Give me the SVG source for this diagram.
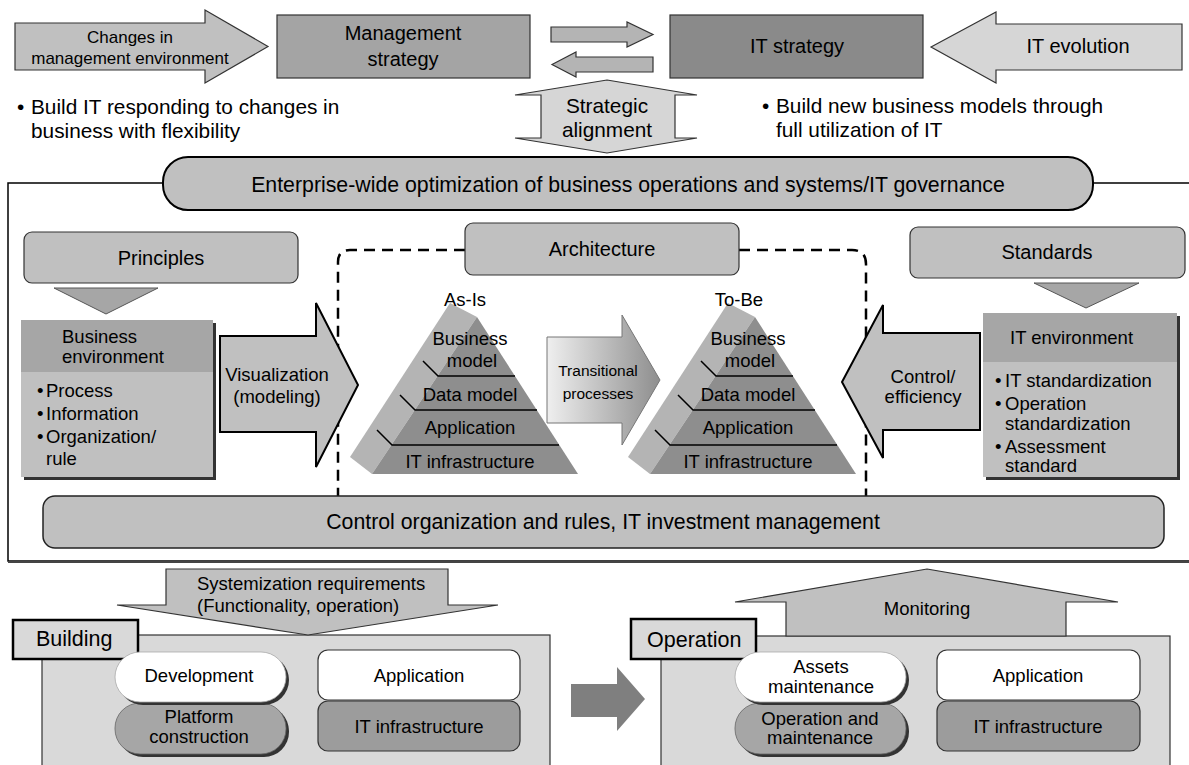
<svg xmlns="http://www.w3.org/2000/svg" width="1189" height="765" viewBox="0 0 1189 765">
  <defs>
    <linearGradient id="gradTrans" x1="547" y1="0" x2="660" y2="0" gradientUnits="userSpaceOnUse">
      <stop offset="0" stop-color="#efefef"/>
      <stop offset="1" stop-color="#8e8e8e"/>
    </linearGradient>
    <!-- stepped pyramid: light side face, darker front face, layer rules -->
    <g id="pyramid">
      <polygon points="450,303 477,317 372,474 350,457" fill="#b4b4b4"/>
      <polygon points="477,317 578,474 372,474" fill="#8e8e8e"/>
      <g stroke="#000" stroke-width="1.5" fill="none">
        <polyline points="423,361 438,376 515,376"/>
        <polyline points="400,395 415,410 537,410"/>
        <polyline points="377,430 392,445 559,445"/>
      </g>
    </g>
  </defs>
  <style>
    text { font-family: "Liberation Sans", Arial, Helvetica, sans-serif; fill: #000; }
    .c { text-anchor: middle; }
    .f15 { font-size: 15.5px; }
    .f17 { font-size: 17px; }
    .f18 { font-size: 18.5px; }
    .f20 { font-size: 20px; }
    .f21 { font-size: 20.8px; }
    .big { font-size: 21.3px; }
    .lbl { font-size: 21.5px; }
    .box { stroke: #333; stroke-width: 1.2; }
    .arrow { stroke: #333; stroke-width: 1.2; }
    .bold { stroke: #000; stroke-width: 2; }
    .dash { fill: none; stroke: #000; stroke-width: 2.5; stroke-dasharray: 11 7; }
    .shadow { fill: #333; }
  </style>

  <rect x="0" y="0" width="1189" height="765" fill="#fff"/>

  <!-- outer governance frame -->
  <g id="frame">
    <rect x="8" y="183" width="1200" height="378" fill="none" stroke="#000" stroke-width="1.5"/>
    <line x1="8" y1="562" x2="1189" y2="562" stroke="#444" stroke-width="2"/>
  </g>

  <!-- top row -->
  <g id="changes">
    <polygon class="arrow" points="15,23 205,23 205,10 268,46.5 205,83 205,70 15,70" fill="#c0c0c0"/>
    <text class="c f17" x="130" y="43">Changes in</text>
    <text class="c f17" x="130" y="64">management environment</text>
  </g>
  <g id="mgmt-strategy">
    <rect class="box" x="277" y="15" width="253" height="63" fill="#a4a4a4"/>
    <text class="c f20" x="403" y="40">Management</text>
    <text class="c f20" x="403" y="66">strategy</text>
  </g>
  <g id="it-strategy">
    <rect class="box" x="670" y="15" width="253" height="63" fill="#8a8a8a"/>
    <text class="c f20" x="797" y="53">IT strategy</text>
  </g>
  <g id="it-evolution">
    <polygon class="arrow" points="931,47 996,12 996,24 1182,24 1182,70 996,70 996,83" fill="#d6d6d6"/>
    <text class="c f20" x="1078" y="53">IT evolution</text>
  </g>
  <g id="strategic-alignment">
    <polygon class="arrow" points="607,80 697,95 675,95 675,138 697,138 607,153 515,138 541,138 541,95 515,95" fill="#d6d6d6"/>
    <text class="c f21" x="607" y="113">Strategic</text>
    <text class="c f21" x="607" y="137">alignment</text>
  </g>
  <g id="note-left">
    <text class="f21" x="17" y="114">•</text>
    <text class="f21" x="31" y="114">Build IT responding to changes in</text>
    <text class="f21" x="31" y="138">business with flexibility</text>
  </g>
  <g id="note-right">
    <text class="f21" x="762" y="113">•</text>
    <text class="f21" x="776" y="113">Build new business models through</text>
    <text class="f21" x="776" y="137">full utilization of IT</text>
  </g>

  <!-- architecture boundary -->
  <g id="arch-boundary">
    <path class="dash" d="M465 250 H350 Q338 250 338 262 V496"/>
    <path class="dash" d="M739 250 H852 Q866 250 866 264 V496"/>
  </g>

  <g id="enterprise-bar">
    <rect x="163" y="157" width="930" height="53" rx="25" fill="#c0c0c0" stroke="#000" stroke-width="2"/>
    <text class="c big" x="628" y="192">Enterprise-wide optimization of business operations and systems/IT governance</text>
  </g>

  <g id="principles">
    <rect class="box" x="24" y="232" width="274" height="51" rx="8" fill="#c0c0c0"/>
    <text class="c f20" x="161" y="265">Principles</text>
  </g>
  <g id="architecture">
    <rect class="box" x="465" y="223" width="274" height="52" rx="8" fill="#c0c0c0"/>
    <text class="c f20" x="602" y="256">Architecture</text>
  </g>
  <g id="standards">
    <rect class="box" x="910" y="227" width="275" height="51" rx="8" fill="#c0c0c0"/>
    <text class="c f20" x="1047" y="259">Standards</text>
  </g>

  <g id="business-env">
    <rect class="shadow" x="24" y="323" width="192" height="157"/>
    <rect x="21" y="320" width="192" height="52" fill="#a6a6a6"/>
    <rect x="21" y="372" width="192" height="105" fill="#c0c0c0"/>
    <text class="f18" x="62" y="343">Business</text>
    <text class="f18" x="62" y="363">environment</text>
    <text class="f18" x="37" y="397">•</text>
    <text class="f18" x="46" y="397">Process</text>
    <text class="f18" x="37" y="420">•</text>
    <text class="f18" x="46" y="420">Information</text>
    <text class="f18" x="37" y="443">•</text>
    <text class="f18" x="46" y="443">Organization/</text>
    <text class="f18" x="46" y="465">rule</text>
  </g>

  <g id="it-env">
    <rect class="shadow" x="986" y="316" width="194" height="164"/>
    <rect x="983" y="313" width="194" height="49" fill="#a6a6a6"/>
    <rect x="983" y="362" width="194" height="115" fill="#c0c0c0"/>
    <text class="f18" x="1010" y="344">IT environment</text>
    <text class="f18" x="995" y="387">•</text>
    <text class="f18" x="1005" y="387">IT standardization</text>
    <text class="f18" x="995" y="410">•</text>
    <text class="f18" x="1005" y="410">Operation</text>
    <text class="f18" x="1005" y="430">standardization</text>
    <text class="f18" x="995" y="453">•</text>
    <text class="f18" x="1005" y="453">Assessment</text>
    <text class="f18" x="1005" y="472">standard</text>
  </g>

  <g id="as-is">
    <use href="#pyramid"/>
    <text class="c f18" x="465" y="306">As-Is</text>
    <text class="c f18" x="470" y="345">Business</text>
    <text class="c f18" x="472" y="367">model</text>
    <text class="c f18" x="470" y="401">Data model</text>
    <text class="c f18" x="470" y="434">Application</text>
    <text class="c f18" x="470" y="468">IT infrastructure</text>
  </g>
  <g id="to-be">
    <use href="#pyramid" transform="translate(278,0)"/>
    <text class="c f18" x="739" y="306">To-Be</text>
    <text class="c f18" x="748" y="345">Business</text>
    <text class="c f18" x="750" y="367">model</text>
    <text class="c f18" x="748" y="401">Data model</text>
    <text class="c f18" x="748" y="434">Application</text>
    <text class="c f18" x="748" y="468">IT infrastructure</text>
  </g>

  <g id="visualization">
    <polygon class="bold" points="220,336 316,336 316,303 358,385 316,467 316,432 220,432" fill="#c0c0c0"/>
    <text class="c f18" x="277" y="381">Visualization</text>
    <text class="c f18" x="277" y="403">(modeling)</text>
  </g>
  <g id="transitional">
    <polygon points="547,337 622,337 622,315 660,380 622,445 622,423 547,423" fill="url(#gradTrans)" stroke="#777" stroke-width="1"/>
    <text class="c f15" x="598" y="376">Transitional</text>
    <text class="c f15" x="598" y="399">processes</text>
  </g>
  <g id="control-efficiency">
    <polygon class="bold" points="842,382 883,305 883,333 980,333 980,430 883,430 883,458" fill="#c0c0c0"/>
    <text class="c f18" x="923" y="383">Control/</text>
    <text class="c f18" x="923" y="403">efficiency</text>
  </g>

  <g id="control-bar">
    <rect x="43" y="496" width="1121" height="52" rx="12" fill="#c0c0c0" stroke="#222" stroke-width="1.5"/>
    <text class="c big" x="603" y="529">Control organization and rules, IT investment management</text>
  </g>

  <!-- flow arrows between blocks -->
  <g id="connectors">
    <polygon class="arrow" points="551,27 627,27 627,22 653,34.5 627,47 627,42 551,42" fill="#b4b4b4"/>
    <polygon class="arrow" points="552,64.5 576,52 576,57 653,57 653,72 576,72 576,77" fill="#b4b4b4"/>
    <polygon points="54,288 158,288 106,314" fill="#a6a6a6" stroke="#555" stroke-width="1"/>
    <polygon points="1034,283 1139,283 1086,308" fill="#a6a6a6" stroke="#555" stroke-width="1"/>
    <polygon points="571,684 617,684 617,667 645,699 617,731 617,717 571,717" fill="#7f7f7f"/>
  </g>

  <!-- building phase -->
  <g id="building">
    <rect class="box" x="42" y="635" width="508" height="135" fill="#d9d9d9"/>
    <rect x="13" y="620" width="125" height="39" fill="#d9d9d9" stroke="#000" stroke-width="2.5"/>
    <text class="lbl" x="36" y="646">Building</text>
  </g>
  <g id="systemization">
    <polygon class="arrow" points="166,569 448,569 448,605 498,605 308,635 117,605 166,605" fill="#c0c0c0"/>
    <text class="f18" x="197" y="590">Systemization requirements</text>
    <text class="f18" x="197" y="612">(Functionality, operation)</text>
  </g>
  <g id="platform">
    <rect class="shadow" x="118" y="706" width="171" height="51" rx="25"/>
    <rect x="115" y="703" width="171" height="51" rx="25" fill="#a6a6a6" stroke="#666" stroke-width="0.8"/>
    <text class="c f18" x="199" y="723">Platform</text>
    <text class="c f18" x="199" y="743">construction</text>
  </g>
  <g id="development">
    <rect class="shadow" x="118" y="655" width="171" height="50" rx="25"/>
    <rect x="115" y="652" width="171" height="50" rx="25" fill="#fff" stroke="#aaa" stroke-width="0.8"/>
    <text class="c f18" x="199" y="682">Development</text>
  </g>
  <g id="build-app">
    <rect class="box" x="318" y="650" width="202" height="50" rx="10" fill="#fff"/>
    <text class="c f18" x="419" y="682">Application</text>
  </g>
  <g id="build-infra">
    <rect class="box" x="318" y="701" width="202" height="50" rx="10" fill="#9c9c9c"/>
    <text class="c f18" x="419" y="733">IT infrastructure</text>
  </g>

  <!-- operation phase -->
  <g id="operation">
    <rect class="box" x="661" y="636" width="509" height="134" fill="#d9d9d9"/>
    <rect x="631" y="619" width="125" height="40" fill="#d9d9d9" stroke="#000" stroke-width="2.5"/>
    <text class="lbl" x="647" y="647">Operation</text>
  </g>
  <g id="monitoring">
    <polygon class="arrow" points="927,569 1118,602 1066,602 1066,636 786,636 786,602 735,602" fill="#c0c0c0"/>
    <text class="c f18" x="927" y="615">Monitoring</text>
  </g>
  <g id="op-maint">
    <rect class="shadow" x="738" y="706" width="171" height="51" rx="25"/>
    <rect x="735" y="703" width="171" height="51" rx="25" fill="#a6a6a6" stroke="#666" stroke-width="0.8"/>
    <text class="c f18" x="820" y="725">Operation and</text>
    <text class="c f18" x="820" y="744">maintenance</text>
  </g>
  <g id="assets">
    <rect class="shadow" x="738" y="655" width="171" height="50" rx="25"/>
    <rect x="735" y="652" width="171" height="50" rx="25" fill="#fff" stroke="#aaa" stroke-width="0.8"/>
    <text class="c f18" x="821" y="673">Assets</text>
    <text class="c f18" x="821" y="693">maintenance</text>
  </g>
  <g id="op-app">
    <rect class="box" x="937" y="650" width="203" height="50" rx="10" fill="#fff"/>
    <text class="c f18" x="1038" y="682">Application</text>
  </g>
  <g id="op-infra">
    <rect class="box" x="937" y="701" width="203" height="50" rx="10" fill="#9c9c9c"/>
    <text class="c f18" x="1038" y="733">IT infrastructure</text>
  </g>
</svg>
